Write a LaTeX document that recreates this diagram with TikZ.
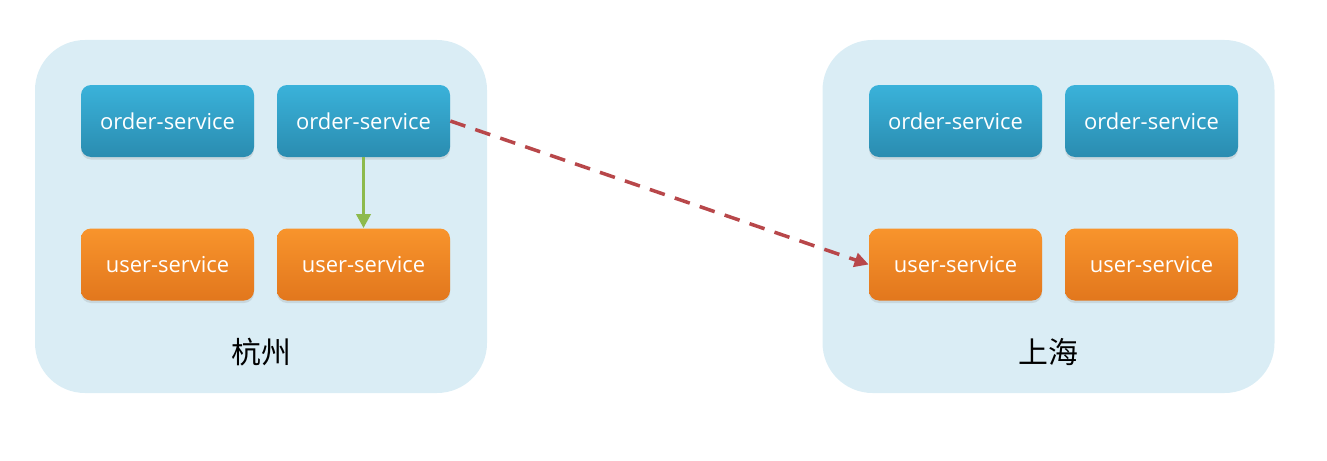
\documentclass[tikz,border=0pt]{standalone}
\usepackage{fontspec}
\setmainfont{Open Sans}
\newfontfamily\cjk{Noto Sans CJK SC}
\usetikzlibrary{arrows.meta,shadows}

\definecolor{regionbg}{HTML}{DAEDF5}
\definecolor{bluetop}{HTML}{3AB2DA}
\definecolor{bluebot}{HTML}{2A8CB0}
\definecolor{orangetop}{HTML}{F8942C}
\definecolor{orangebot}{HTML}{E2771D}
\definecolor{callgreen}{HTML}{8DBA4C}
\definecolor{callred}{HTML}{B8474A}

\begin{document}
\begin{tikzpicture}[
    region/.style={fill=regionbg, rounded corners=1cm, minimum width=9.04cm, minimum height=7.06cm},
    svc/.style={rounded corners=0.2cm, minimum width=3.46cm, minimum height=1.44cm,
        text=white, font=\fontsize{12.5}{15}\selectfont,
        drop shadow={shadow xshift=0pt, shadow yshift=-0.05cm, opacity=0.2}},
    order/.style={svc, top color=bluetop, bottom color=bluebot},
    user/.style={svc, top color=orangetop, bottom color=orangebot},
    city/.style={font=\cjk\fontsize{17}{20}\selectfont, text=black}
]
\useasboundingbox (0,0) rectangle (26.54,9.2);

% Two data centres
\node[region] (hz) at (5.22,4.87) {};
\node[region] (sh) at (20.97,4.87) {};
\node[city] (hzlabel) at (5.22,2.16) {杭州};
\node[city] (shlabel) at (20.97,2.16) {上海};

% Service instances, two per row in each region
\foreach \r/\i/\x in {hz/1/3.35, hz/2/7.27, sh/1/19.11, sh/2/23.03}{
    \node[order] (order\r\i) at (\x,6.78) {order-service};
    \node[user] (user\r\i) at (\x,3.91) {user-service};
}

% Local call inside Hangzhou
\draw[callgreen, line width=2.2pt, -{Triangle[length=8pt,width=8pt]}]
    (orderhz2) -- (userhz2);

% Cross-region call to Shanghai
\draw[callred, line width=2pt, dash pattern=on 9pt off 6pt, -{Triangle[length=8pt,width=8pt]}]
    (orderhz2.east) -- (usersh1.west);

\end{tikzpicture}
\end{document}
